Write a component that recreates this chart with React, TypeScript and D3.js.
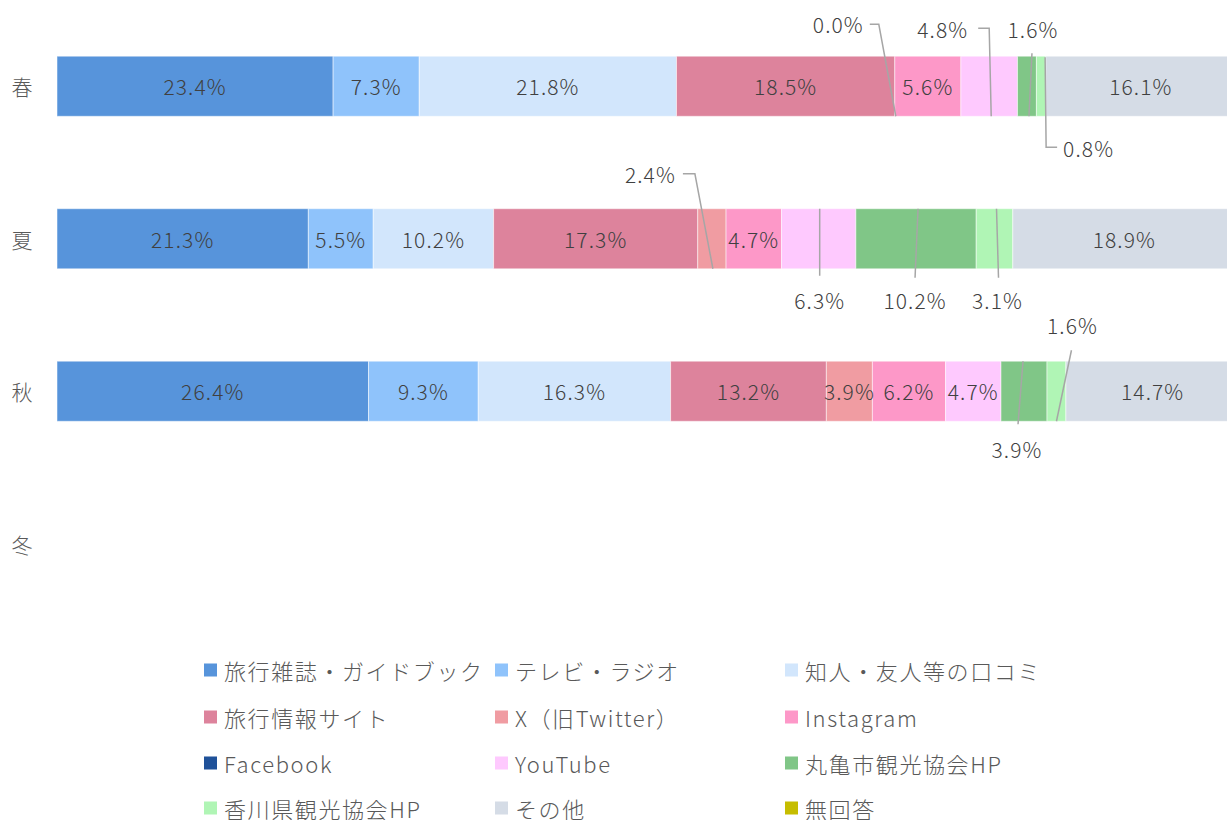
import React from "react";
import * as d3 from "d3";

const seasons = ["春", "夏", "秋", "冬"];
const seriesNames = [
  "旅行雑誌・ガイドブック",
  "テレビ・ラジオ",
  "知人・友人等の口コミ",
  "旅行情報サイト",
  "X（旧Twitter）",
  "Instagram",
  "Facebook",
  "YouTube",
  "丸亀市観光協会HP",
  "香川県観光協会HP",
  "その他",
  "無回答",
];
const seriesColors = [
  "#5794db",
  "#8fc3fb",
  "#d2e6fc",
  "#dd839c",
  "#f09ca2",
  "#fd98c8",
  "#1f5199",
  "#fec9fe",
  "#80c687",
  "#b0f5b5",
  "#d5dce6",
  "#c6bd00",
];
// values per season (null = no data)
const springValues = [23.4, 7.3, 21.8, 18.5, 0.0, 5.6, null, 4.8, 1.6, 0.8, 16.1, null];
const summerValues = [21.3, 5.5, 10.2, 17.3, 2.4, 4.7, null, 6.3, 10.2, 3.1, 18.9, null];
const autumnValues = [26.4, 9.3, 16.3, 13.2, 3.9, 6.2, null, 4.7, 3.9, 1.6, 14.7, null];
const winterValues: (number | null)[] = [null, null, null, null, null, null, null, null, null, null, null, null];
const seasonValues = [springValues, summerValues, autumnValues, winterValues];

// labels placed outside the bar with leader lines: [seasonIndex, seriesIndex]
const outsideLabels: [number, number][] = [
  [0, 4], [0, 7], [0, 8], [0, 9],
  [1, 4], [1, 7], [1, 8], [1, 9],
  [2, 8], [2, 9],
];
// layout of callouts, relative to segment centre (dx) and bar centre (dy)
const calloutLayout: Record<string, { tx: number; ty: number; anchor: string; pts: [number, number][] }> = {
  "0-4": { tx: -31, ty: -62, anchor: "end", pts: [[-25, -62], [-16, -62], [1, 30]] },
  "0-7": { tx: -21, ty: -57, anchor: "end", pts: [[-11, -58], [0, -58], [2, 30]] },
  "0-8": { tx: 6, ty: -57, anchor: "middle", pts: [[5, -33], [2, 30]] },
  "0-9": { tx: 22, ty: 62, anchor: "start", pts: [[4, -29], [5, 61], [16, 61]] },
  "1-4": { tx: -36, ty: -65, anchor: "end", pts: [[-29, -65], [-17, -65], [1, 30]] },
  "1-7": { tx: 1, ty: 61, anchor: "middle", pts: [[1, -30], [1, 37]] },
  "1-8": { tx: -1, ty: 61, anchor: "middle", pts: [[2, -30], [-1, 39]] },
  "1-9": { tx: 3, ty: 61, anchor: "middle", pts: [[2, -30], [4, 39]] },
  "2-8": { tx: -7, ty: 58, anchor: "middle", pts: [[-1, -30], [-6, 33]] },
  "2-9": { tx: 16, ty: -66, anchor: "middle", pts: [[15, -41], [0, 30]] },
};

const FONT = "'Noto Sans CJK JP', 'Noto Sans', sans-serif";

export default function App() {
  const W = 1227;
  const H = 820;
  const x = d3.scaleLinear().domain([0, 100]).range([57, 1237]);
  const y = d3.scaleBand().domain(seasons).range([10, 620]).paddingInner(0.606).paddingOuter(0.303);
  const bh = y.bandwidth();

  const segs: any[] = [];
  seasonValues.forEach((vals, si) => {
    let acc = 0;
    vals.forEach((v, k) => {
      if (v === null) return;
      segs.push({ si, k, v, x0: x(acc), x1: x(acc + v) });
      acc += v;
    });
  });
  const isOutside = (si: number, k: number) => outsideLabels.some(([a, b]) => a === si && b === k);
  const line = d3.line();

  const legendCols = [204, 495, 785];
  const legendRows = [670, 717, 763, 808];

  const numStyle = { fontSize: 21, letterSpacing: 1.1, fontWeight: 300 } as any;

  return (
    <div style={{ position: "fixed", left: 0, top: 0, width: W, height: H, overflow: "hidden", background: "#fff" }}>
      <svg width={W} height={H} style={{ display: "block", fontFamily: FONT }}>
        {seasons.map((s) => (
          <text key={s} x={22} y={(y(s) as number) + bh / 2} textAnchor="middle" dominantBaseline="central" fontSize={21} fontWeight={300} fill="#595959">
            {s}
          </text>
        ))}
        {segs.map((d, i) => {
          const yy = y(seasons[d.si]) as number;
          return (
            <rect key={"r" + i} x={d.x0} y={yy} width={Math.max(0, d.x1 - d.x0)} height={bh} fill={seriesColors[d.k]} stroke="#ffffff" strokeOpacity={0.5} strokeWidth={1} />
          );
        })}
        {segs.map((d, i) => {
          if (isOutside(d.si, d.k)) return null;
          const yy = (y(seasons[d.si]) as number) + bh / 2;
          return (
            <text key={"t" + i} x={(d.x0 + d.x1) / 2} y={yy} textAnchor="middle" dominantBaseline="central" style={numStyle} fill="#404040">
              {d.v.toFixed(1)}%
            </text>
          );
        })}
        {segs.map((d, i) => {
          if (!isOutside(d.si, d.k)) return null;
          const lay = calloutLayout[d.si + "-" + d.k];
          const cx = (d.x0 + d.x1) / 2;
          const cy = (y(seasons[d.si]) as number) + bh / 2;
          const pts = lay.pts.map(([dx, dy]) => [cx + dx, cy + dy] as [number, number]);
          return (
            <g key={"c" + i}>
              <path d={line(pts) || ""} fill="none" stroke="#a6a6a6" strokeWidth={1.5} />
              <text x={cx + lay.tx} y={cy + lay.ty} textAnchor={lay.anchor as any} dominantBaseline="central" style={numStyle} fill="#404040">
                {d.v.toFixed(1)}%
              </text>
            </g>
          );
        })}
        {seriesNames.map((n, i) => {
          const lx = legendCols[i % 3];
          const ly = legendRows[Math.floor(i / 3)];
          return (
            <g key={"l" + i}>
              <rect x={lx} y={ly - 6.5} width={13} height={13} fill={seriesColors[i]} />
              <text x={lx + 20} y={ly} dominantBaseline="central" fontSize={22} fontWeight={300} letterSpacing={1.6} fill="#595959">
                {n}
              </text>
            </g>
          );
        })}
      </svg>
    </div>
  );
}
